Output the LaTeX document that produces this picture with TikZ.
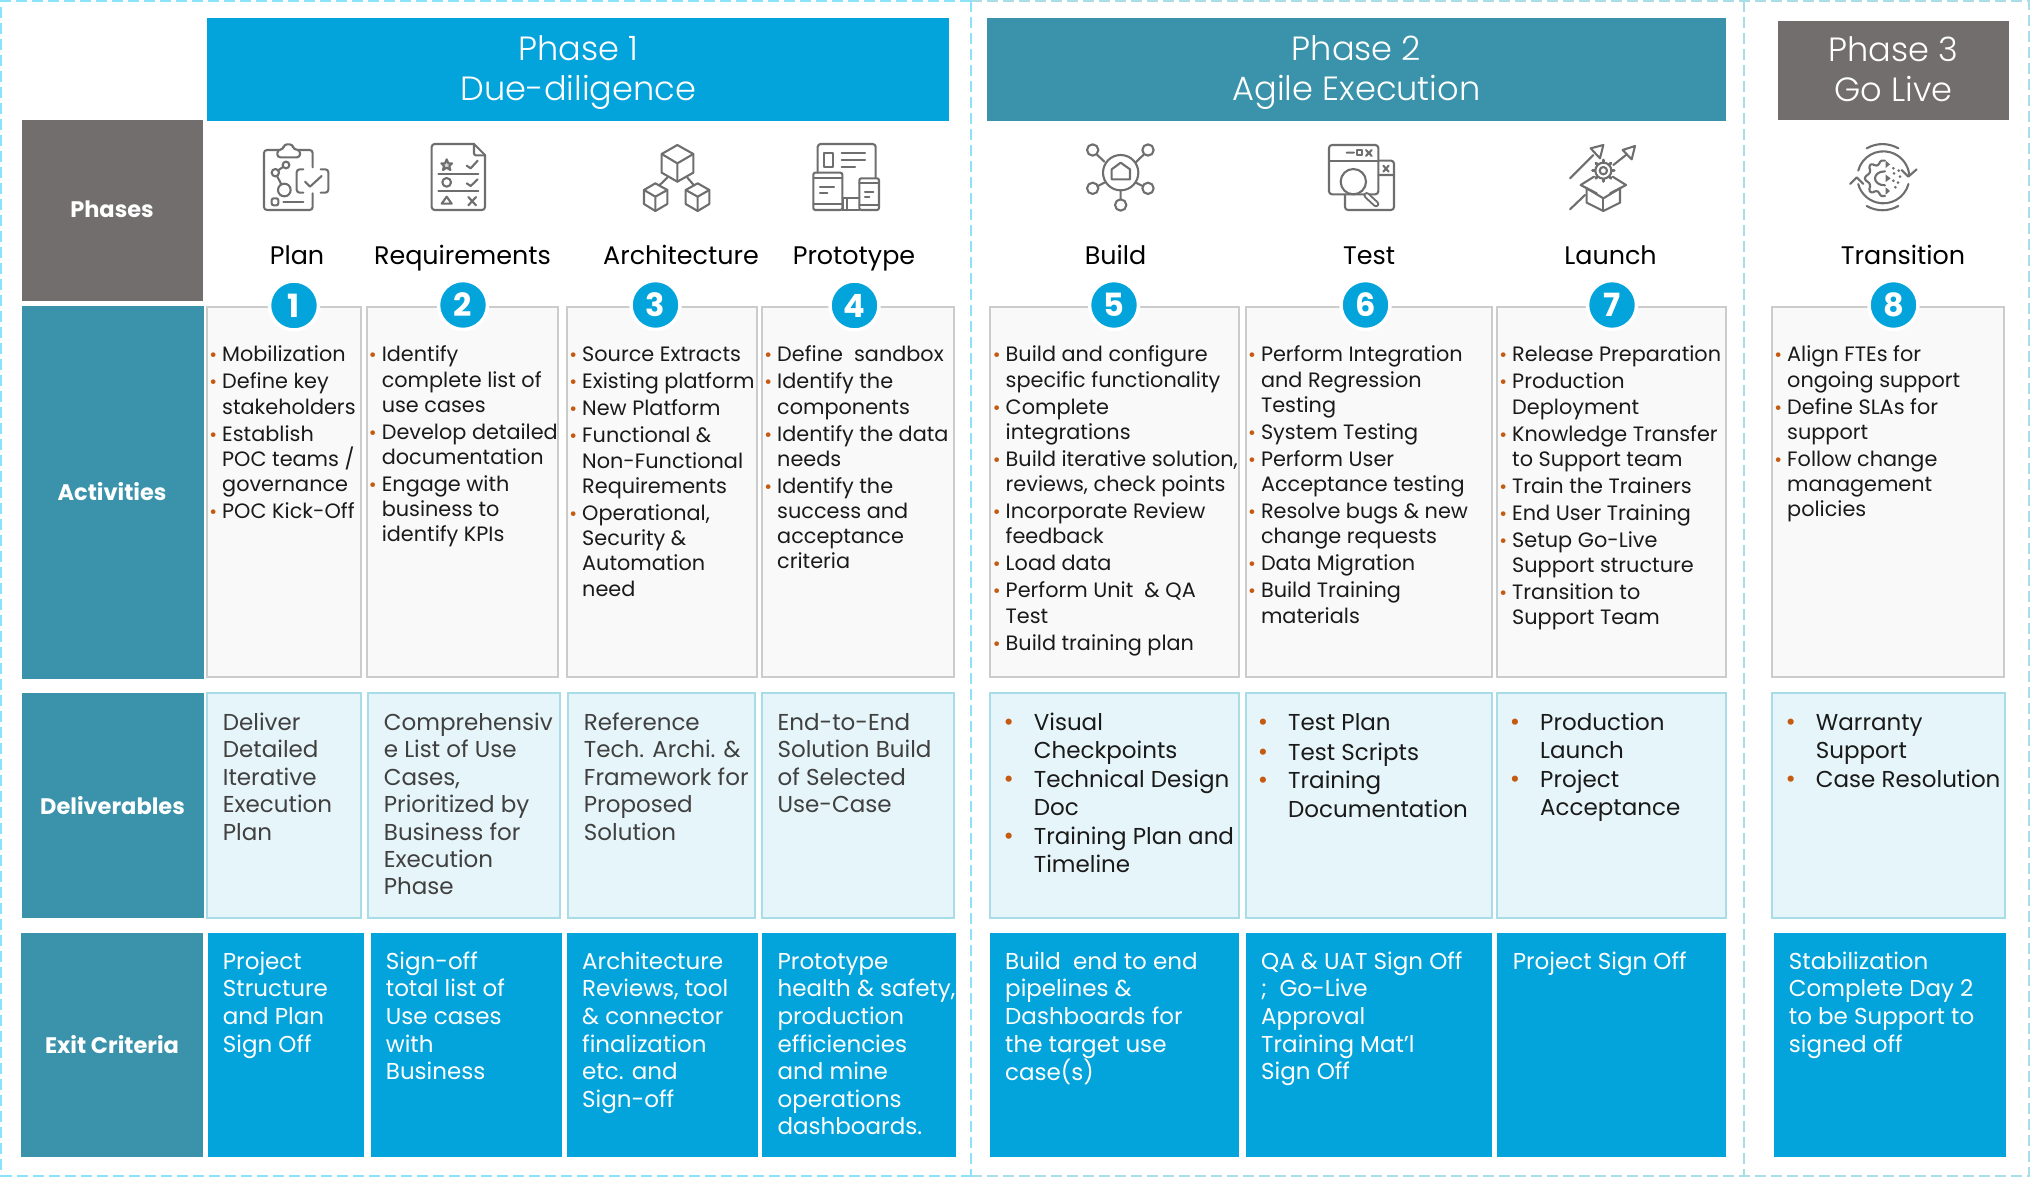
\documentclass[tikz,border=0pt]{standalone}
\usepackage{fontspec}
\setmainfont{Poppins}
\newfontfamily\lightf{Poppins Light}
\definecolor{cblue}{HTML}{03A4DB}
\definecolor{cteal}{HTML}{3A93AA}
\definecolor{cgray}{HTML}{726E6E}
\definecolor{cellf}{HTML}{F9F9F9}
\definecolor{cellb}{HTML}{CCCCCC}
\definecolor{delf}{HTML}{E6F5F9}
\definecolor{delb}{HTML}{A8DCE6}
\definecolor{bulc}{HTML}{C55A11}
\definecolor{dark}{HTML}{404040}
\definecolor{blk}{HTML}{1A1A1A}
\definecolor{dashA}{HTML}{8BE2FB}
\definecolor{dashB}{HTML}{A9DEE8}
\definecolor{iconc}{HTML}{6E6E6E}
\newcommand{\st}{\vrule height 20pt depth 0pt width 0pt}
\newcommand{\ba}{\llap{\textcolor{bulc}{\fontsize{19}{19}\selectfont\char"2022}\hspace{5pt}}}
\newcommand{\bd}{\llap{\textcolor{bulc}{\fontsize{25}{25}\selectfont\char"2022}\hspace{20pt}}}
\newcommand{\boxn}[6]{\node[#1,anchor=north west,inner sep=0pt,outer sep=0pt,minimum width={(#5-#3)*1pt},minimum height={(#6-#4)*1pt}] (#2) at (#3,#4) {};}
\tikzset{
 actb/.style={fill=cellf,draw=cellb,line width=1.8pt},
 delbx/.style={fill=delf,draw=delb,line width=1.8pt},
 exb/.style={fill=cblue},
 tealb/.style={fill=cteal},
 grayb/.style={fill=cgray},
 rowlab/.style={text=white,font=\bfseries\fontsize{22.5}{26}\selectfont},
 coltitle/.style={text=black,anchor=base,font=\fontsize{25.4}{30}\selectfont},
 num/.style={circle,fill=cblue,draw=white,line width=3.5pt,minimum size=49pt,inner sep=0pt,text=white,font=\bfseries\fontsize{32}{32}\selectfont},
 phtext/.style={text=white,align=center,font=\lightf\fontsize{33.6}{40}\selectfont,inner sep=0pt},
 acttxt/.style={anchor=north west,yshift=20pt,inner sep=0pt,align=left,text=blk,font=\fontsize{20.8}{25.1}\selectfont},
 deltxt/.style={anchor=north west,yshift=20pt,inner sep=0pt,align=left,text=dark,font=\fontsize{23}{27.4}\selectfont},
 delbtxt/.style={anchor=north west,yshift=20pt,inner sep=0pt,align=left,text=blk,font=\fontsize{23}{28.4}\selectfont},
 extxt/.style={anchor=north west,yshift=20pt,inner sep=0pt,align=left,text=white,font=\fontsize{23}{27.6}\selectfont},
 ic/.style={draw=iconc,line width=2.1pt,line join=round,line cap=round},
 icz/.style={x=0.33333pt,y=-0.33333pt},
 dA/.style={draw=dashA,line width=2.4pt,dash pattern=on 11pt off 5pt},
 dB/.style={draw=dashB,line width=2.4pt,dash pattern=on 11pt off 5pt},
}
\begin{document}
\begin{tikzpicture}[x=1pt,y=-1pt]
\useasboundingbox (0,0) rectangle (2031,1177);
% dashed frame
\draw[dA] (971,1.2) -- (1.2,1.2) -- (1.2,1175.8) -- (971,1175.8);
\draw[dA] (971,1.2) -- (971,1175.8);
\draw[dB] (971,1.2) -- (2029,1.2) -- (2029,1175.8) -- (971,1175.8);
\draw[dB] (1744,1.2) -- (1744,1175.8);
% row labels
\boxn{grayb}{rPh}{22}{120}{203}{301}
\boxn{tealb}{rAc}{22}{306}{204}{679}
\boxn{tealb}{rDe}{22}{693}{204}{918}
\boxn{tealb}{rEx}{21}{933}{203}{1157}
\node[rowlab] (lPh) at (112,209) {Phases};
\node[rowlab] (lAc) at (112,492) {Activities};
\node[rowlab] (lDe) at (112.5,806) {Deliverables};
\node[rowlab] (lEx) at (112,1045) {Exit Criteria};
% phase headers
\boxn{fill=cblue}{ph1}{207}{18}{949}{121}
\boxn{fill=cteal}{ph2}{987}{18}{1726}{121}
\boxn{fill=cgray}{ph3}{1778}{21}{2009}{120}
\node[phtext] (tp1) at (578.5,73) {Phase 1\\Due-diligence};
\node[phtext] (tp2) at (1356.5,73) {Phase 2\\Agile Execution};
\node[phtext] (tp3) at (1893.5,69.5) {Phase 3\\Go Live};
% activity cells
\boxn{actb}{a1}{207}{307}{361}{677}
\boxn{actb}{a2}{367}{307}{558}{677}
\boxn{actb}{a3}{567}{307}{757}{677}
\boxn{actb}{a4}{762}{307}{954}{677}
\boxn{actb}{a5}{990}{307}{1239}{677}
\boxn{actb}{a6}{1246}{307}{1492}{677}
\boxn{actb}{a7}{1497}{307}{1726}{677}
\boxn{actb}{a8}{1772}{307}{2004}{677}
% deliverable cells
\boxn{delbx}{d1}{207}{693}{361}{918}
\boxn{delbx}{d2}{368}{693}{560}{918}
\boxn{delbx}{d3}{568}{693}{755}{918}
\boxn{delbx}{d4}{762}{693}{954}{918}
\boxn{delbx}{d5}{990}{693}{1239}{918}
\boxn{delbx}{d6}{1246}{693}{1492}{918}
\boxn{delbx}{d7}{1497}{693}{1726}{918}
\boxn{delbx}{d8}{1772}{693}{2005}{918}
% exit cells
\boxn{exb}{e1}{208}{933}{364}{1157}
\boxn{exb}{e2}{371}{933}{562}{1157}
\boxn{exb}{e3}{567}{933}{758}{1157}
\boxn{exb}{e4}{762}{933}{956}{1157}
\boxn{exb}{e5}{990}{933}{1239}{1157}
\boxn{exb}{e6}{1246}{933}{1492}{1157}
\boxn{exb}{e7}{1497}{933}{1726}{1157}
\boxn{exb}{e8}{1774}{933}{2006}{1157}
% column titles
\node[coltitle] (t1) at (297,264) {Plan};
\node[coltitle] (t2) at (462.5,264) {Requirements};
\node[coltitle] (t3) at (681,264) {Architecture};
\node[coltitle] (t4) at (854,264) {Prototype};
\node[coltitle] (t5) at (1115.5,264) {Build};
\node[coltitle] (t6) at (1369,264) {Test};
\node[coltitle] (t7) at (1610.5,264) {Launch};
\node[coltitle] (t8) at (1903,264) {Transition};
% numbers
\node[num] (n1) at (294,305.5) {1};
\node[num] (n2) at (463,305) {2};
\node[num] (n3) at (655.5,305) {3};
\node[num] (n4) at (854.5,305.5) {4};
\node[num] (n5) at (1114,305) {5};
\node[num] (n6) at (1365.5,305) {6};
\node[num] (n7) at (1612,305) {7};
\node[num] (n8) at (1893.5,305) {8};
% activities text
\node[acttxt] (at1) at (222,361.7) {\st\ba Mobilization\\[1.9pt]
\ba Define key\\stakeholders\\[1.9pt]
\ba Establish\\POC teams /\\governance\\[1.9pt]
\ba POC Kick-Off};
\node[acttxt] (at2) at (381.6,361.7) {\st\ba Identify\\complete list of\\use cases\\[1.9pt]
\ba Develop detailed\\documentation\\[1.9pt]
\ba Engage with\\business to\\identify KPIs};
\node[acttxt] (at3) at (582,361.7) {\st\ba Source Extracts\\[1.9pt]
\ba Existing platform\\[1.9pt]
\ba New Platform\\[1.9pt]
\ba Functional \&\\Non-Functional\\Requirements\\[2.5pt]
\ba Operational,\\Security \&\\Automation\\need};
\node[acttxt] (at4) at (777,361.7) {\st\ba Define\ \ sandbox\\[1.9pt]
\ba Identify the\\components\\[1.9pt]
\ba Identify the data\\needs\\[1.9pt]
\ba Identify the\\success and\\acceptance\\criteria};
\node[acttxt] (at5) at (1005.5,361.7) {\st\ba Build and configure\\specific functionality\\[1.9pt]
\ba Complete\\integrations\\[1.9pt]
\ba Build iterative solution,\\reviews, check points\\[1.9pt]
\ba Incorporate Review\\feedback\\[2.5pt]
\ba Load data\\[1.9pt]
\ba Perform Unit\ \ \& QA\\Test\\[1.9pt]
\ba Build training plan};
\node[acttxt] (at6) at (1260.8,361.7) {\st\ba Perform Integration\\and Regression\\Testing\\[1.9pt]
\ba System Testing\\[1.9pt]
\ba Perform User\\Acceptance testing\\[1.9pt]
\ba Resolve bugs \& new\\change requests\\[2.5pt]
\ba Data Migration\\[1.9pt]
\ba Build Training\\materials};
\node[acttxt] (at7) at (1512,361.7) {\st\ba Release Preparation\\[1.9pt]
\ba Production\\Deployment\\[1.9pt]
\ba Knowledge Transfer\\to Support team\\[1.9pt]
\ba Train the Trainers\\[2.5pt]
\ba End User Training\\[1.9pt]
\ba Setup Go-Live\\Support structure\\[1.9pt]
\ba Transition to\\Support Team};
\node[acttxt] (at8) at (1787,361.7) {\st\ba Align FTEs for\\ongoing support\\[1.9pt]
\ba Define SLAs for\\support\\[1.9pt]
\ba Follow change\\management\\policies};
% deliverables text
\node[deltxt] (dt1) at (222.7,730.3) {\st Deliver\\Detailed\\Iterative\\Execution\\Plan};
\node[deltxt] (dt2) at (383.7,730.3) {\st Comprehensiv\\e List of Use\\Cases,\\Prioritized by\\Business for\\Execution\\Phase};
\node[deltxt] (dt3) at (583.7,730.3) {\st Reference\\Tech. Archi. \&\\Framework for\\Proposed\\Solution};
\node[deltxt] (dt4) at (777.4,730.3) {\st End-to-End\\Solution Build\\of Selected\\Use-Case};
\node[delbtxt] (dt5) at (1033.6,730.3) {\st\bd Visual\\Checkpoints\\\bd Technical Design\\Doc\\\bd Training Plan and\\Timeline};
\node[delbtxt] (dt6) at (1288,730.3) {\st\bd Test Plan\\[1.5pt]\bd Test Scripts\\\bd Training\\Documentation};
\node[delbtxt] (dt7) at (1540,730.3) {\st\bd Production\\Launch\\\bd Project\\Acceptance};
\node[delbtxt] (dt8) at (1815.7,730.3) {\st\bd Warranty\\Support\\\bd Case Resolution};
% exit text
\node[extxt] (et1) at (222.7,969) {\st Project\\Structure\\and Plan\\Sign Off};
\node[extxt] (et2) at (385.7,969) {\st Sign-off\\total list of\\Use cases\\with\\Business};
\node[extxt] (et3) at (582,969) {\st Architecture\\Reviews, tool\\\& connector\\finalization\\etc. and\\Sign-off};
\node[extxt] (et4) at (777.4,969) {\st Prototype\\health \& safety,\\production\\efficiencies\\and mine\\operations\\dashboards.};
\node[extxt] (et5) at (1005,969) {\st Build\ \ end to end\\pipelines \&\\Dashboards for\\the target use\\case(s)};
\node[extxt] (et6) at (1261,969) {\st QA \& UAT Sign Off\\;\ \ Go-Live\\Approval\\Training Mat’l\\Sign Off};
\node[extxt] (et7) at (1512.6,969) {\st Project Sign Off};
\node[extxt] (et8) at (1788.7,969) {\st Stabilization\\Complete Day 2\\to be Support to\\signed off};
% ICONS (coordinates read from 3x crops)
\begin{scope}[shift={(250,130)},icz]
 % plan
 \draw[ic,rounded corners=3pt] (188,112) -- (188,60) -- (42,60) -- (42,240) -- (188,240) -- (188,190);
 \draw[ic,fill=white,rounded corners=3pt] (82,60) -- (82,82) -- (150,82) -- (150,60) -- (130,58) -- (128,43) -- (102,43) -- (100,58) -- cycle;
 \draw[ic,rounded corners=3pt] (160,118) -- (140,118) -- (140,188) -- (160,188);
 \draw[ic,rounded corners=3pt] (212,118) -- (235,118) -- (235,188) -- (212,188);
 \draw[ic] (165,155) -- (180,170) -- (215,138);
 \draw[ic] (76,128) circle[radius=11];
 \draw[ic] (108,105) circle[radius=10];
 \draw[ic] (103,180) circle[radius=19];
 \draw[ic] (86,120) -- (99,111) (82,140) -- (94,163);
 \draw[ic,rounded corners=2pt] (65,205) rectangle (85,226);
 \draw[ic] (100,215) -- (160,215);
 % requirements
 \draw[ic,rounded corners=3pt] (672,42) -- (545,42) -- (545,240) -- (705,240) -- (705,75);
 \draw[ic] (672,42) -- (705,75);
 \draw[ic,rounded corners=2pt] (672,42) -- (672,76) -- (705,76);
 \draw[ic,fill=iconc!30] (590,88) -- (595,100) -- (606,100) -- (598,108) -- (601,120) -- (590,113) -- (579,120) -- (582,108) -- (574,100) -- (585,100) -- cycle;
 \draw[ic] (650,107) -- (662,115) -- (683,92) (650,160) -- (662,168) -- (683,148);
 \draw[ic] (565,132) -- (685,132) (565,182) -- (685,182);
 \draw[ic] (590,157) circle[radius=13];
 \draw[ic] (590,200) -- (575,221) -- (605,221) -- cycle;
 \draw[ic] (655,201) -- (678,226) (678,201) -- (655,226);
\end{scope}
\begin{scope}[shift={(630,130)},icz]
 % architecture
 \draw[ic] (142,45) -- (190,72) -- (190,128) -- (142,155) -- (95,128) -- (95,72) -- cycle;
 \draw[ic] (95,72) -- (142,100) -- (190,72) (142,100) -- (142,155);
 \draw[ic] (76,160) -- (112,180) -- (112,222) -- (76,243) -- (42,222) -- (42,180) -- cycle;
 \draw[ic] (42,180) -- (76,200) -- (112,180) (76,200) -- (76,243);
 \draw[ic] (203,160) -- (238,180) -- (238,222) -- (203,243) -- (167,222) -- (167,180) -- cycle;
 \draw[ic] (167,180) -- (203,200) -- (238,180) (203,200) -- (203,243);
 \draw[ic] (112,143) -- (88,166) (172,143) -- (192,166);
 % prototype
 \draw[ic,rounded corners=3pt] (563,128) -- (563,42) -- (737,42) -- (737,143);
 \draw[ic] (582,68) rectangle (610,110);
 \draw[ic] (635,70) -- (705,70) (635,90) -- (705,90) (635,110) -- (675,110);
 \draw[ic,rounded corners=2pt] (550,128) rectangle (637,240);
 \draw[ic] (550,145) -- (637,145) (550,222) -- (637,222);
 \draw[ic] (570,172) -- (612,172) (570,188) -- (592,188);
 \draw[ic,rounded corners=2pt] (688,145) rectangle (747,240);
 \draw[ic] (688,160) -- (747,160) (688,225) -- (747,225);
 \draw[ic] (705,185) -- (730,185) (705,200) -- (718,200);
 \draw[ic] (640,205) -- (685,205) (640,205) -- (640,240) (652,205) -- (652,240) (637,240) -- (688,240);
\end{scope}
\begin{scope}[shift={(1070,130)},icz]
 % build
 \draw[ic] (152,128) circle[radius=53];
 \draw[ic] (125,118) -- (152,98) -- (180,118) -- (180,148) -- (125,148) -- cycle;
 \foreach \px/\py in {68/60,234/60,68/175,234/175,152/225}
  \draw[ic] (\px,\py) circle[radius=17];
 \draw[ic] (80,73) -- (103,95) (222,73) -- (197,97) (84,168) -- (103,158) (218,168) -- (197,158) (152,182) -- (152,208);
 % test
 \draw[ic,rounded corners=3pt] (777,45) rectangle (925,193);
 \draw[ic] (777,92) -- (925,92);
 \draw[ic] (830,68) -- (852,68) (888,60) -- (905,78) (905,60) -- (888,78);
 \draw[ic] (860,60) rectangle (877,76);
 \draw[ic,rounded corners=3pt] (925,92) -- (972,92) -- (972,240) -- (825,240) -- (825,193);
 \draw[ic] (925,135) -- (972,135) (940,107) -- (956,125) (956,107) -- (940,125);
 \draw[line width=6.5pt,iconc,line cap=round] (890,196) -- (918,222);
 \draw[line width=2.6pt,white,line cap=round] (890,196) -- (918,222);
 \draw[ic,fill=white] (850,155) circle[radius=38];
\end{scope}
\begin{scope}[shift={(1550,130)},icz]
 % launch
 \draw[ic] (60,145) -- (130,75) (160,45) -- (122,55) -- (150,85) -- cycle;
 \draw[ic] (190,105) -- (228,75) (255,48) -- (218,60) -- (245,88) -- cycle;
 \draw[ic] (60,238) -- (105,195);
 \foreach \a in {0,45,...,315} \draw[ic,line width=3pt] (160,122) ++(\a:23) -- ++(\a:9);
 \draw[ic,fill=white] (160,122) circle[radius=24];
 \draw[ic] (160,122) circle[radius=11];
 \draw[ic,fill=white] (110,175) -- (160,205) -- (210,175) -- (210,218) -- (160,243) -- (110,218) -- cycle;
 \draw[ic] (160,205) -- (160,243);
 \draw[ic] (110,175) -- (92,165) -- (132,140) (92,165) -- (140,190);
 \draw[ic] (210,175) -- (228,165) -- (188,140) (228,165) -- (180,190);
 % transition
 \draw[ic] (1000,142) ++(195:78) arc[start angle=195,end angle=355,radius=78];
 \draw[ic] (1000,142) ++(15:78) arc[start angle=15,end angle=165,radius=78];
 \draw[ic] (1055,120) -- (1075,140) -- (1100,118);
 \draw[ic] (900,162) -- (920,142) -- (940,162);
 \draw[ic] (950,55) .. controls (980,38) and (1015,38) .. (1045,55);
 \draw[ic] (950,228) .. controls (980,245) and (1015,245) .. (1045,228);
 \draw[ic,rounded corners=1.5pt] (1005,92) -- (990,92) -- (988,104) -- (975,108) -- (966,100) -- (956,110) -- (962,122) -- (955,135) -- (945,138) -- (945,152) -- (955,155) -- (962,168) -- (956,180) -- (966,190) -- (975,182) -- (988,186) -- (990,198) -- (1005,198);
 \draw[ic] (1005,124) .. controls (985,124) and (975,135) .. (975,145) .. controls (975,155) and (985,166) .. (1005,166);
 \fill[iconc] (1007,92) -- (1020,103) -- (1007,114) -- cycle;
 \fill[iconc] (1007,134) -- (1022,145) -- (1007,156) -- cycle;
 \fill[iconc] (1007,172) -- (1020,183) -- (1007,194) -- cycle;
 \foreach \px/\py in {1030/115,1046/122,1032/130,1050/140,1030/152,1044/158,1036/172}
  \fill[iconc] (\px,\py) circle[radius=4.5];
\end{scope}
\end{tikzpicture}
\end{document}
